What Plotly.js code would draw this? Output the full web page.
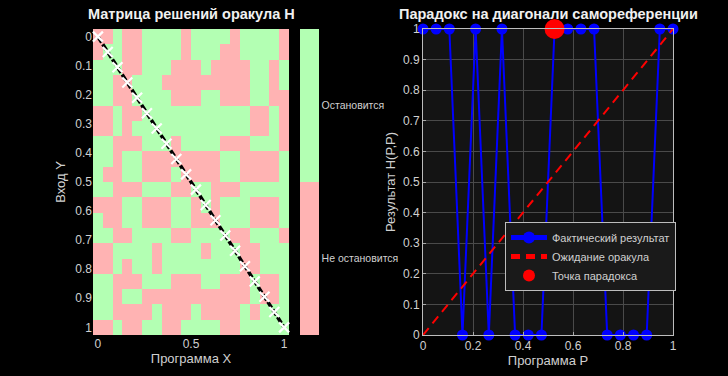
<!DOCTYPE html>
<html><head><meta charset="utf-8">
<script src="https://cdn.plot.ly/plotly-3.0.1.min.js"></script>
<style>html,body{margin:0;padding:0;background:#000;}</style>
</head><body><div id="chart" style="width:728px;height:376px;"></div>
<script>
const programs = [0,0.0526,0.1053,0.1579,0.2105,0.2632,0.3158,0.3684,0.4211,0.4737,0.5263,0.5789,0.6316,0.6842,0.7368,0.7895,0.8421,0.8947,0.9474,1];
const haltMatrix = [
[0,0,1,0,0,1,1,1,1,0,1,1,1,1,0,1,1,1,1,0],
[0,1,1,0,0,1,1,1,1,0,1,1,1,0,0,1,1,1,1,0],
[1,1,1,0,0,1,1,1,0,0,0,1,0,0,0,0,1,1,0,1],
[1,1,0,0,1,1,1,0,0,0,0,0,0,0,0,0,1,1,0,1],
[1,1,0,0,1,1,1,1,0,0,0,1,1,0,0,0,1,1,0,0],
[0,0,1,0,0,1,1,1,1,1,1,1,1,1,1,1,0,0,1,0],
[0,0,1,0,1,1,1,1,1,1,1,1,1,1,1,1,0,0,1,0],
[1,1,0,0,0,1,1,1,0,1,1,1,1,0,0,0,1,1,1,0],
[1,1,0,1,1,0,0,0,0,0,0,0,0,1,1,0,0,0,0,1],
[1,0,0,1,1,0,0,0,1,0,0,0,0,1,1,0,0,0,0,1],
[1,1,0,0,0,1,1,1,0,0,1,1,0,0,0,1,1,1,1,1],
[0,0,0,1,1,0,0,0,1,1,0,1,0,1,1,1,0,0,0,1],
[1,0,0,1,1,0,0,0,1,1,0,0,0,1,1,1,0,0,0,1],
[1,1,0,0,1,1,1,1,0,0,1,1,1,1,0,0,1,1,1,0],
[0,0,1,1,1,1,0,1,1,1,1,0,1,1,1,0,0,1,1,1],
[0,0,1,0,1,1,0,1,1,1,1,1,1,1,1,0,0,1,1,1],
[1,1,0,0,0,1,1,1,0,0,0,1,1,0,0,0,1,0,0,1],
[1,1,0,1,1,0,0,0,0,0,0,0,0,0,0,0,1,0,0,1],
[1,1,0,0,0,0,1,0,0,0,1,0,0,0,0,1,0,1,1,1],
[0,0,1,0,0,1,1,0,0,1,1,1,1,0,0,1,1,1,1,1]
];
const actualResult = [1,1,1,0,1,0,1,0,0,0,1,1,1,1,0,0,0,0,1,1];
const oracleX = [0,1];
const oracleY = [0,1];
const paradoxX = [0.5263];
const paradoxY = [1];
const colorbarVals = [0.25,0.75];
const colorbarText = ['Не остановится','Остановится'];
const leftXTicks = [0,0.5,1];
const leftXText = ['0','0.5','1'];
const tenthTicks = [0,0.1,0.2,0.3,0.4,0.5,0.6,0.7,0.8,0.9,1];
const tenthText = ['0','0.1','0.2','0.3','0.4','0.5','0.6','0.7','0.8','0.9','1'];
const rightXTicks = [0,0.2,0.4,0.6,0.8,1];
const rightXText = ['0','0.2','0.4','0.6','0.8','1'];
const titles = ['Матрица решений оракула H','Парадокс на диагонали самореференции'];
const legendNames = ['Фактический результат','Ожидание оракула','Точка парадокса'];

const FONT = 'Liberation Sans, Arial, sans-serif';
const TXT = '#d0d0d0';
const PINK = '#ffb3b3', GREEN = '#b3ffb3';

const traces = [
  {type:'heatmap', x:programs, y:programs, z:haltMatrix, xaxis:'x', yaxis:'y',
   zmin:0, zmax:1,
   colorscale:[[0,PINK],[0.5,PINK],[0.5,GREEN],[1,GREEN]],
   showscale:true, hoverinfo:'skip',
   colorbar:{x:300/728, xanchor:'left', y:(376-182)/376, yanchor:'middle', len:306/376, lenmode:'fraction',
     thickness:19, thicknessmode:'pixels', outlinewidth:0, tickmode:'array', tickvals:colorbarVals, ticktext:colorbarText,
     ticks:'', tickfont:{family:FONT,size:10.5,color:TXT}, xpad:0, ypad:0, ticklabelposition:'outside'}
  },
  {type:'scatter', mode:'lines', x:programs, y:programs, xaxis:'x', yaxis:'y',
   line:{color:'#000000', width:3.5, dash:'7px,2px'}, showlegend:false, hoverinfo:'skip'},
  {type:'scatter', mode:'markers', x:programs, y:programs, xaxis:'x', yaxis:'y',
   marker:{symbol:'x-thin', size:10, line:{color:'#ffffff', width:2.2}}, showlegend:false, hoverinfo:'skip', cliponaxis:false},
  {type:'scatter', mode:'lines+markers', x:programs, y:actualResult, xaxis:'x2', yaxis:'y2',
   name:legendNames[0], line:{color:'#0000ff', width:2}, marker:{color:'#0000ff', size:11}, cliponaxis:false},
  {type:'scatter', mode:'lines', x:oracleX, y:oracleY, xaxis:'x2', yaxis:'y2',
   name:legendNames[1], line:{color:'#ff0000', width:2, dash:'9px,6px'}, cliponaxis:false},
  {type:'scatter', mode:'markers', x:paradoxX, y:paradoxY, xaxis:'x2', yaxis:'y2',
   name:legendNames[2], marker:{color:'#ff0000', size:20}, cliponaxis:false}
];

const axBase = {tickfont:{family:FONT,size:12,color:TXT}, zeroline:false, ticks:'inside', ticklen:3, tickcolor:'#aaaaaa'};
const layout = {
  width:728, height:376, margin:{l:0,r:0,t:0,b:0},
  paper_bgcolor:'#000000', plot_bgcolor:'#000000',
  font:{family:FONT, color:TXT},
  showlegend:true,
  xaxis:Object.assign({}, axBase, {domain:[93/728,289/728], range:[-0.0263,1.0263], tickmode:'array', tickvals:leftXTicks, ticktext:leftXText,
    showgrid:false, showline:false, ticks:'',
    title:{text:'Программа X', font:{family:FONT,size:13,color:TXT}, standoff:3}}),
  yaxis:Object.assign({}, axBase, {domain:[41/376,347/376], range:[1.0263,-0.0263], tickmode:'array', tickvals:tenthTicks, ticktext:tenthText,
    showgrid:false, showline:false, ticks:'',
    title:{text:'Вход Y', font:{family:FONT,size:13,color:TXT}, standoff:6}}),
  xaxis2:Object.assign({}, axBase, {domain:[423/728,673/728], range:[0,1], anchor:'y2', tickmode:'array', tickvals:rightXTicks, ticktext:rightXText,
    showgrid:true, gridcolor:'#4a4a4a', gridwidth:1, showline:true, mirror:true, linecolor:'#bdbdbd', linewidth:1,
    title:{text:'Программа P', font:{family:FONT,size:13,color:TXT}, standoff:3}}),
  yaxis2:Object.assign({}, axBase, {domain:[41/376,347/376], range:[0,1], anchor:'x2', tickmode:'array', tickvals:tenthTicks, ticktext:tenthText,
    showgrid:true, gridcolor:'#4a4a4a', gridwidth:1, showline:true, mirror:true, linecolor:'#bdbdbd', linewidth:1,
    title:{text:'Результат H(P,P)', font:{family:FONT,size:13,color:TXT}, standoff:4}}),
  shapes:[{type:'rect', xref:'x2 domain', yref:'y2 domain', x0:0, x1:1, y0:0, y1:1, fillcolor:'#141414', line:{width:0}, layer:'below'}],
  legend:{x:676/728, xanchor:'right', y:(376-222)/376, yanchor:'top', bgcolor:'#1a1a1a', bordercolor:'#bdbdbd', borderwidth:1,
    font:{family:FONT,size:11,color:TXT}, itemwidth:36, tracegroupgap:0, itemsizing:'constant'},
  annotations:[
    {text:'<b>'+titles[0]+'</b>', xref:'paper', yref:'paper', x:191/728, y:(376-14)/376, xanchor:'center', yanchor:'middle', showarrow:false, font:{family:FONT,size:14.5,color:'#f0f0f0'}},
    {text:'<b>'+titles[1]+'</b>', xref:'paper', yref:'paper', x:548/728, y:(376-14)/376, xanchor:'center', yanchor:'middle', showarrow:false, font:{family:FONT,size:14.5,color:'#f0f0f0'}}
  ]
};
Plotly.newPlot('chart', traces, layout, {displayModeBar:false, staticPlot:true});
</script></body></html>
